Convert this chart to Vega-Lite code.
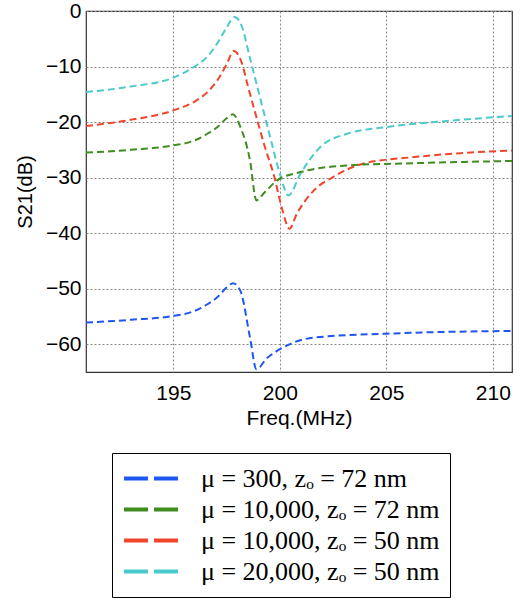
{
  "$schema": "https://vega.github.io/schema/vega-lite/v6.json",
  "width": 426,
  "height": 361,
  "autosize": {"type": "none"},
  "padding": {"left": 86, "top": 11, "right": 11, "bottom": 226},
  "background": "white",
  "config": {
    "view": {"stroke": "#333", "strokeWidth": 1.2},
    "font": "Liberation Sans"
  },
  "data": {
    "values": [
      {"f": 190.9, "s": -14.6, "k": "μ = 20,000, zₒ = 50 nm"},
      {"f": 193.0, "s": -13.6, "k": "μ = 20,000, zₒ = 50 nm"},
      {"f": 195.0, "s": -12.0, "k": "μ = 20,000, zₒ = 50 nm"},
      {"f": 196.0, "s": -10.0, "k": "μ = 20,000, zₒ = 50 nm"},
      {"f": 196.6, "s": -8.2, "k": "μ = 20,000, zₒ = 50 nm"},
      {"f": 197.1, "s": -5.6, "k": "μ = 20,000, zₒ = 50 nm"},
      {"f": 197.5, "s": -3.0, "k": "μ = 20,000, zₒ = 50 nm"},
      {"f": 197.87, "s": -1.1, "k": "μ = 20,000, zₒ = 50 nm"},
      {"f": 198.2, "s": -2.6, "k": "μ = 20,000, zₒ = 50 nm"},
      {"f": 198.6, "s": -8.5, "k": "μ = 20,000, zₒ = 50 nm"},
      {"f": 199.1, "s": -16.0, "k": "μ = 20,000, zₒ = 50 nm"},
      {"f": 199.6, "s": -23.5, "k": "μ = 20,000, zₒ = 50 nm"},
      {"f": 200.0, "s": -29.3, "k": "μ = 20,000, zₒ = 50 nm"},
      {"f": 200.4, "s": -33.2, "k": "μ = 20,000, zₒ = 50 nm"},
      {"f": 200.97, "s": -29.3, "k": "μ = 20,000, zₒ = 50 nm"},
      {"f": 201.9, "s": -24.5, "k": "μ = 20,000, zₒ = 50 nm"},
      {"f": 203.16, "s": -22.1, "k": "μ = 20,000, zₒ = 50 nm"},
      {"f": 205.0, "s": -20.9, "k": "μ = 20,000, zₒ = 50 nm"},
      {"f": 207.84, "s": -19.8, "k": "μ = 20,000, zₒ = 50 nm"},
      {"f": 210.9, "s": -18.9, "k": "μ = 20,000, zₒ = 50 nm"},

      {"f": 190.9, "s": -20.7, "k": "μ = 10,000, zₒ = 50 nm"},
      {"f": 193.0, "s": -19.6, "k": "μ = 10,000, zₒ = 50 nm"},
      {"f": 195.0, "s": -17.9, "k": "μ = 10,000, zₒ = 50 nm"},
      {"f": 196.0, "s": -16.3, "k": "μ = 10,000, zₒ = 50 nm"},
      {"f": 196.6, "s": -14.6, "k": "μ = 10,000, zₒ = 50 nm"},
      {"f": 197.1, "s": -12.3, "k": "μ = 10,000, zₒ = 50 nm"},
      {"f": 197.5, "s": -9.6, "k": "μ = 10,000, zₒ = 50 nm"},
      {"f": 197.84, "s": -7.2, "k": "μ = 10,000, zₒ = 50 nm"},
      {"f": 198.2, "s": -9.2, "k": "μ = 10,000, zₒ = 50 nm"},
      {"f": 198.5, "s": -13.5, "k": "μ = 10,000, zₒ = 50 nm"},
      {"f": 198.9, "s": -19.1, "k": "μ = 10,000, zₒ = 50 nm"},
      {"f": 199.3, "s": -24.5, "k": "μ = 10,000, zₒ = 50 nm"},
      {"f": 199.7, "s": -29.3, "k": "μ = 10,000, zₒ = 50 nm"},
      {"f": 200.1, "s": -35.5, "k": "μ = 10,000, zₒ = 50 nm"},
      {"f": 200.45, "s": -39.2, "k": "μ = 10,000, zₒ = 50 nm"},
      {"f": 200.8, "s": -36.5, "k": "μ = 10,000, zₒ = 50 nm"},
      {"f": 201.6, "s": -32.3, "k": "μ = 10,000, zₒ = 50 nm"},
      {"f": 202.5, "s": -29.9, "k": "μ = 10,000, zₒ = 50 nm"},
      {"f": 203.9, "s": -27.5, "k": "μ = 10,000, zₒ = 50 nm"},
      {"f": 206.3, "s": -26.3, "k": "μ = 10,000, zₒ = 50 nm"},
      {"f": 208.5, "s": -25.6, "k": "μ = 10,000, zₒ = 50 nm"},
      {"f": 210.9, "s": -25.1, "k": "μ = 10,000, zₒ = 50 nm"},

      {"f": 190.9, "s": -25.5, "k": "μ = 10,000, zₒ = 72 nm"},
      {"f": 193.0, "s": -25.0, "k": "μ = 10,000, zₒ = 72 nm"},
      {"f": 195.0, "s": -24.2, "k": "μ = 10,000, zₒ = 72 nm"},
      {"f": 196.0, "s": -23.3, "k": "μ = 10,000, zₒ = 72 nm"},
      {"f": 196.6, "s": -22.1, "k": "μ = 10,000, zₒ = 72 nm"},
      {"f": 197.1, "s": -20.8, "k": "μ = 10,000, zₒ = 72 nm"},
      {"f": 197.5, "s": -19.3, "k": "μ = 10,000, zₒ = 72 nm"},
      {"f": 197.8, "s": -18.6, "k": "μ = 10,000, zₒ = 72 nm"},
      {"f": 198.15, "s": -20.9, "k": "μ = 10,000, zₒ = 72 nm"},
      {"f": 198.6, "s": -26.9, "k": "μ = 10,000, zₒ = 72 nm"},
      {"f": 198.9, "s": -34.1, "k": "μ = 10,000, zₒ = 72 nm"},
      {"f": 199.3, "s": -32.6, "k": "μ = 10,000, zₒ = 72 nm"},
      {"f": 199.87, "s": -30.5, "k": "μ = 10,000, zₒ = 72 nm"},
      {"f": 200.97, "s": -29.0, "k": "μ = 10,000, zₒ = 72 nm"},
      {"f": 203.2, "s": -27.8, "k": "μ = 10,000, zₒ = 72 nm"},
      {"f": 206.3, "s": -27.4, "k": "μ = 10,000, zₒ = 72 nm"},
      {"f": 210.9, "s": -27.0, "k": "μ = 10,000, zₒ = 72 nm"},

      {"f": 190.9, "s": -56.1, "k": "μ = 300, zₒ = 72 nm"},
      {"f": 193.0, "s": -55.6, "k": "μ = 300, zₒ = 72 nm"},
      {"f": 195.0, "s": -54.9, "k": "μ = 300, zₒ = 72 nm"},
      {"f": 196.0, "s": -54.0, "k": "μ = 300, zₒ = 72 nm"},
      {"f": 196.6, "s": -52.8, "k": "μ = 300, zₒ = 72 nm"},
      {"f": 197.1, "s": -51.4, "k": "μ = 300, zₒ = 72 nm"},
      {"f": 197.5, "s": -49.8, "k": "μ = 300, zₒ = 72 nm"},
      {"f": 197.8, "s": -49.0, "k": "μ = 300, zₒ = 72 nm"},
      {"f": 198.15, "s": -50.4, "k": "μ = 300, zₒ = 72 nm"},
      {"f": 198.6, "s": -58.8, "k": "μ = 300, zₒ = 72 nm"},
      {"f": 198.9, "s": -64.5, "k": "μ = 300, zₒ = 72 nm"},
      {"f": 199.4, "s": -62.5, "k": "μ = 300, zₒ = 72 nm"},
      {"f": 200.0, "s": -60.9, "k": "μ = 300, zₒ = 72 nm"},
      {"f": 201.6, "s": -58.8, "k": "μ = 300, zₒ = 72 nm"},
      {"f": 205.0, "s": -58.1, "k": "μ = 300, zₒ = 72 nm"},
      {"f": 210.9, "s": -57.6, "k": "μ = 300, zₒ = 72 nm"}
    ]
  },
  "mark": {"type": "line", "interpolate": "monotone", "strokeWidth": 2, "strokeDash": [7, 4], "clip": true},
  "encoding": {
    "x": {
      "field": "f", "type": "quantitative",
      "scale": {"domain": [190.9, 210.9], "nice": false, "zero": false},
      "axis": {
        "title": "Freq.(MHz)", "values": [195, 200, 205, 210],
        "labelFontSize": 21, "titleFontSize": 21, "titleFontWeight": "normal",
        "labelColor": "black", "titleColor": "black", "labelPadding": 10, "titlePadding": 4,
        "ticks": false, "domain": false,
        "grid": true, "gridDash": [2, 2], "gridColor": "#888", "gridWidth": 1
      }
    },
    "y": {
      "field": "s", "type": "quantitative",
      "scale": {"domain": [-65, 0], "nice": false, "zero": false},
      "axis": {
        "title": "S21(dB)", "values": [-60, -50, -40, -30, -20, -10, 0],
        "labelFontSize": 21, "titleFontSize": 20, "titleFontWeight": "normal",
        "labelColor": "black", "titleColor": "black", "labelPadding": 5, "titlePadding": 10,
        "ticks": false, "domain": false,
        "grid": true, "gridDash": [2, 2], "gridColor": "#888", "gridWidth": 1
      }
    },
    "color": {
      "field": "k", "type": "nominal",
      "scale": {
        "domain": ["μ = 300, zₒ = 72 nm", "μ = 10,000, zₒ = 72 nm", "μ = 10,000, zₒ = 50 nm", "μ = 20,000, zₒ = 50 nm"],
        "range": ["#1f55f0", "#3f8c1f", "#f0452a", "#4ccaca"]
      },
      "legend": {
        "title": null, "orient": "none", "legendX": 26, "legendY": 442,
        "symbolType": "stroke", "symbolSize": 3025, "symbolStrokeWidth": 4, "symbolDash": [24, 6],
        "clipHeight": 31, "rowPadding": 0,
        "labelFont": "Liberation Serif", "labelFontSize": 26, "labelColor": "black",
        "labelLimit": 400, "labelOffset": 20,
        "strokeColor": "black", "padding": 10, "fillColor": "white"
      }
    }
  }
}
